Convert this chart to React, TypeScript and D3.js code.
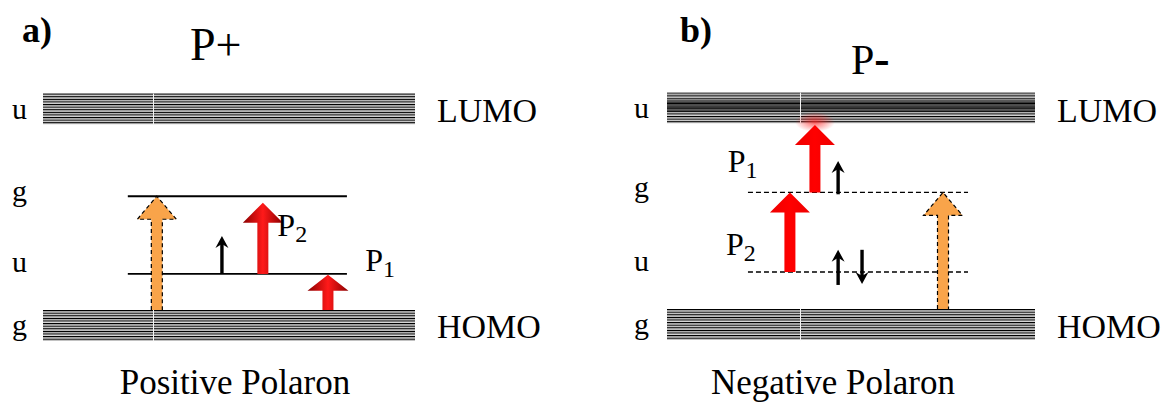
import React from "react";
import * as d3 from "d3";

// ---- data (energies in arbitrary units: HOMO top = 0, LUMO bottom = 10) ----
const panelIds = ["a", "b"];
const panelLetters = ["a)", "b)"];
const panelTitles = ["P+", "P"];
const panelTitleSuffix = ["", "-"];
const panelCaptions = ["Positive Polaron", "Negative Polaron"];
const bandNames = ["HOMO", "LUMO"];
const bandEnergies = [0, 10]; // inner edges of HOMO (top) and LUMO (bottom)
const bandThickness = 1.7;
const symmetryLabels = ["g", "u", "g", "u"]; // HOMO, lower polaron, upper polaron, LUMO
const polaronLevelsA = [1.95, 6.15]; // u, g
const polaronLevelsB = [2.0, 6.3]; // u, g
const levelSpanA = [0.228, 0.817];
const levelSpanB = [0.22, 0.818];
// transitions: [x fraction, from energy, to energy]
const orangeA = [0.306, 0, 6.15];
const redP2A = [0.591, 1.95, 5.8];
const redP1A = [0.766, 0, 1.9];
const spinA = [[0.481, 1.95, 4.0, 1]];
const orangeB = [0.75, 0, 6.3];
const redP1B = [0.402, 6.3, 9.95];
const redP2B = [0.334, 2.0, 6.3];
const spinB = [
  [0.465, 6.2, 8.0, 1],
  [0.465, 1.3, 3.2, 1],
  [0.53, 3.2, 1.35, -1],
];
const transitionLabelsA = [
  ["P", "2", 0.63, 4.0],
  ["P", "1", 0.866, 2.1],
];
const transitionLabelsB = [
  ["P", "1", 0.165, 7.4],
  ["P", "2", 0.16, 2.9],
];

const FONT = "'Liberation Serif', 'Times New Roman', serif";

function arrowPoints(cx: number, yBase: number, yTip: number, sw: number, hw: number, hl: number) {
  const dir = yTip < yBase ? 1 : -1; // 1 = up
  const yHead = yTip + dir * hl;
  return [
    [cx - sw / 2, yBase],
    [cx - sw / 2, yHead],
    [cx - hw / 2, yHead],
    [cx, yTip],
    [cx + hw / 2, yHead],
    [cx + sw / 2, yHead],
    [cx + sw / 2, yBase],
  ]
    .map((p) => p.join(","))
    .join(" ");
}

function Band({ x0, x1, yTop, yBot, dark, seam }: any) {
  const period = 2.6;
  const rows = d3.range(yTop, yBot - 0.5, period);
  return (
    <g>
      <rect x={x0} y={yTop} width={x1 - x0} height={yBot - yTop} fill="#ffffff" />
      {rows.map((y, i) => {
        const darkRow = dark && i >= 3 && i < 7;
        const grayTop = dark && i < 3;
        return (
          <g key={i}>
            <rect x={x0} y={y} width={x1 - x0} height={1.2} fill={grayTop ? "#333" : "#000"} />
            <rect
              x={x0}
              y={y + 1.2}
              width={x1 - x0}
              height={darkRow ? 1.4 : 0.8}
              fill={darkRow ? "#333" : grayTop ? "#666" : "#9a9a9a"}
            />
          </g>
        );
      })}
      <rect x={seam} y={yTop} width={1} height={yBot - yTop} fill="#f4f4f4" />
    </g>
  );
}

function SpinArrow({ x, y0, y1 }: any) {
  const up = y1 < y0;
  const hl = 12;
  const hw = 13;
  const yh = up ? y1 + hl : y1 - hl;
  return (
    <g>
      <line x1={x} y1={y0} x2={x} y2={up ? y1 + 5 : y1 - 5} stroke="#000" strokeWidth={3.4} />
      <polygon points={`${x - hw / 2},${yh} ${x},${y1} ${x + hw / 2},${yh} ${x},${up ? yh - 4 : yh + 4}`} fill="#000" />
    </g>
  );
}

function Panel({ idx }: { idx: number }) {
  const isA = idx === 0;
  const x = d3.scaleLinear().domain([0, 1]).range(isA ? [43, 415] : [667, 1035]);
  const y = d3.scaleLinear().domain([0, 10]).range(isA ? [310, 125] : [309, 124]);
  const levels = isA ? polaronLevelsA : polaronLevelsB;
  const span = isA ? levelSpanA : levelSpanB;
  const orange = isA ? orangeA : orangeB;
  const reds = isA ? [redP2A, redP1A] : [redP1B, redP2B];
  const spins = isA ? spinA : spinB;
  const tLabels = isA ? transitionLabelsA : transitionLabelsB;
  const labelX = isA ? 12 : 634;
  const seam = isA ? 153 : 800;
  const pid = panelIds[idx];
  const symEnergies = [
    bandEnergies[0] - bandThickness * 0.78,
    levels[0] + 0.08,
    levels[1] - 0.25,
    bandEnergies[1] + bandThickness * 0.2,
  ];
  const ocx = x(orange[0]);
  return (
    <g>
      <defs>
        <linearGradient id={`red-${pid}`} x1="0" x2="1" y1="0" y2="0">
          <stop offset="0" stopColor={isA ? "#8a0000" : "#ee0000"} />
          <stop offset="0.5" stopColor={isA ? "#ff1a1a" : "#ff0000"} />
          <stop offset="1" stopColor={isA ? "#8a0000" : "#ee0000"} />
        </linearGradient>
        <radialGradient id={`glow-${pid}`}>
          <stop offset="0" stopColor="#ff2020" stopOpacity={0.7} />
          <stop offset="1" stopColor="#ff2020" stopOpacity={0} />
        </radialGradient>
      </defs>
      {/* panel letter, title */}
      <text x={isA ? 22 : 680} y={42} fontFamily={FONT} fontWeight="bold" fontSize={36}>
        {panelLetters[idx]}
      </text>
      <text x={isA ? 190 : 851} y={isA ? 60 : 74} fontFamily={FONT} fontSize={isA ? 46 : 42}>
        {panelTitles[idx]}
        {panelTitleSuffix[idx] && <tspan fontWeight="bold" fontSize={46}>{panelTitleSuffix[idx]}</tspan>}
      </text>
      {/* bands */}
      <Band x0={x(0)} x1={x(1)} yTop={y(bandEnergies[1] + bandThickness)} yBot={y(bandEnergies[1])} dark={!isA} seam={seam} />
      <Band x0={x(0)} x1={x(1)} yTop={y(bandEnergies[0])} yBot={y(bandEnergies[0] - bandThickness)} dark={false} seam={seam} />
      {bandNames.map((n, i) => (
        <text key={n} x={x(1) + 22} y={i === 0 ? 338 : 122} fontFamily={FONT} fontSize={34}>
          {n}
        </text>
      ))}
      {symmetryLabels.map((s, i) => (
        <text key={i} x={labelX} y={y(symEnergies[i])} fontFamily={FONT} fontSize={30}>
          {s}
        </text>
      ))}
      {/* polaron levels */}
      {levels.map((e, i) => (
        <line
          key={i}
          x1={x(span[0])}
          x2={x(span[1])}
          y1={y(e)}
          y2={y(e)}
          stroke="#000"
          strokeWidth={isA ? 1.8 : 1.3}
          strokeDasharray={isA ? undefined : "5,3"}
        />
      ))}
      {!isA && <ellipse cx={x(redP1B[0])} cy={y(10) - 2} rx={20} ry={10} fill={`url(#glow-${pid})`} />}
      {/* orange transition */}
      <polygon points={arrowPoints(ocx, y(orange[1]), y(orange[2]), 11, 39, 23)} fill="#f9a44a" stroke="none" />
      <polyline
        points={`${ocx - 5.5},${y(orange[1])} ${ocx - 5.5},${y(orange[2]) + 23} ${ocx - 19.5},${y(orange[2]) + 23} ${ocx},${y(orange[2])} ${ocx + 19.5},${y(orange[2]) + 23} ${ocx + 5.5},${y(orange[2]) + 23} ${ocx + 5.5},${y(orange[1])}`}
        fill="none"
        stroke="#000"
        strokeWidth={1.2}
        strokeDasharray="4,3"
      />
      {/* red transitions */}
      {reds.map((r, i) => {
        const small = isA && i === 1;
        return (
          <polygon
            key={i}
            points={arrowPoints(x(r[0]), y(r[1]), y(r[2]), 11, small ? 41 : 40, small ? 16 : 20)}
            fill={`url(#red-${pid})`}
          />
        );
      })}
      {/* spins */}
      {spins.map((s, i) => (
        <SpinArrow key={i} x={x(s[0])} y0={y(s[1])} y1={y(s[2])} />
      ))}
      {/* transition labels */}
      {tLabels.map((l, i) => (
        <text key={i} x={x(l[2] as number)} y={y(l[3] as number)} fontFamily={FONT} fontSize={32}>
          {l[0]}
          <tspan fontSize={24} dy={6}>
            {l[1]}
          </tspan>
        </text>
      ))}
      <text x={isA ? 235 : 833} y={394} textAnchor="middle" fontFamily={FONT} fontSize={35}>
        {panelCaptions[idx]}
      </text>
    </g>
  );
}

export default function App() {
  return (
    <svg
      width={1166}
      height={402}
      viewBox="0 0 1166 402"
      style={{ position: "absolute", left: 0, top: 0, background: "#fff" }}
    >
      <rect width={1166} height={402} fill="#fff" />
      {panelIds.map((p, i) => (
        <Panel key={p} idx={i} />
      ))}
    </svg>
  );
}
